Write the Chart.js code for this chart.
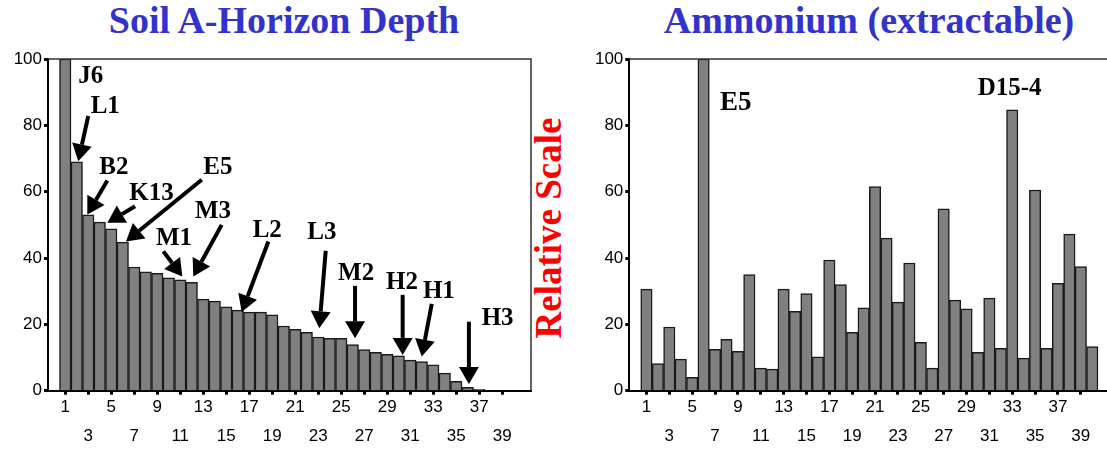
<!DOCTYPE html>
<html>
<head>
<meta charset="utf-8">
<script src="https://cdn.jsdelivr.net/npm/chart.js@4.4.0/dist/chart.umd.min.js"></script>
<style>
  html, body { margin: 0; padding: 0; background: #fff; width: 1107px; height: 449px; overflow: hidden; position: relative; }
  canvas { position: absolute; top: 0; }
  #graficoSolo { left: 0; }
  #graficoAmonio { left: 580px; }
  .titulo { position: absolute; top: 0; font: bold 38px "Liberation Serif", "Times New Roman", serif; color: #3333cc; white-space: nowrap; line-height: 40px; transform: translateX(-50%); }
  #escala { position: absolute; left: 547.5px; top: 227.5px; transform: translate(-50%, -50%) rotate(-90deg); font: bold 37px "Liberation Serif", "Times New Roman", serif; color: #ff0000; white-space: nowrap; line-height: 37px; }
</style>
</head>
<body>
<div class="titulo" style="left:284px">Soil A-Horizon Depth</div>
<div class="titulo" style="left:869px">Ammonium (extractable)</div>
<div id="escala">Relative Scale</div>
<canvas id="graficoSolo" width="560" height="449"></canvas>
<canvas id="graficoAmonio" width="540" height="449"></canvas>
<script>
// Amostras (eixo x)
const amostras = [1, 2, 3, 4, 5, 6, 7, 8, 9, 10, 11, 12, 13, 14, 15, 16, 17, 18, 19, 20,
  21, 22, 23, 24, 25, 26, 27, 28, 29, 30, 31, 32, 33, 34, 35, 36, 37, 38, 39, 40];

// Profundidade do horizonte A (escala relativa)
const profundidadeSolo = [100, 69, 53, 50.8, 48.8, 44.8, 37.3, 35.8, 35.4, 34, 33.4, 32.7, 27.6, 27, 25.3, 24.3,
  23.7, 23.7, 22.9, 19.5, 18.5, 17.6, 16.2, 15.8, 15.8, 13.9, 12.4, 11.6, 11, 10.5, 9.2, 8.8, 7.8, 5.3, 2.8, 1.0,
  0.4, 0, 0, 0];

// Amônio extraível (escala relativa)
const amonioExtraivel = [30.6, 8.2, 19.2, 9.5, 4.0, 100, 12.5, 15.5, 11.9, 35.0, 6.8, 6.5, 30.6, 23.9, 29.3, 10.2,
  39.4, 32.0, 17.6, 25.0, 61.5, 46.0, 26.7, 38.5, 14.6, 6.8, 54.8, 27.3, 24.7, 11.6, 27.9, 12.8, 84.7, 9.8, 60.5,
  12.8, 32.4, 47.2, 37.4, 13.3];

// Marcas do eixo y
const yTicks = [0, 20, 40, 60, 80, 100];

// Rótulos das amostras (posição em índice de categoria / valor)
const rotulosSolo = [
  { texto: 'J6', x: 2.13, y: 94.8 },
  { texto: 'L1', x: 3.21, y: 85.8, de: [3.0, 82.8], para: [2.13, 69.2] },
  { texto: 'B2', x: 3.96, y: 67.4, de: [4.66, 63.4], para: [2.92, 53.1] },
  { texto: 'K13', x: 6.57, y: 59.4, de: [7.07, 55.6], para: [4.66, 50.6] },
  { texto: 'E5', x: 13.0, y: 67.2, de: [12.87, 63.6], para: [6.28, 45.0] },
  { texto: 'M3', x: 12.28, y: 54.1, de: [14.6, 50.0], para: [12.13, 34.4] },
  { texto: 'M1', x: 8.89, y: 46.0, de: [9.53, 42.0], para: [11.18, 34.4] },
  { texto: 'L2', x: 17.3, y: 48.4, de: [18.66, 45.0], para: [16.34, 23.7] },
  { texto: 'L3', x: 22.05, y: 47.7, de: [23.65, 42.2], para: [23.09, 18.8] },
  { texto: 'M2', x: 24.72, y: 35.4, de: [26.2, 31.6], para: [26.2, 15.8] },
  { texto: 'H2', x: 28.89, y: 32.5, de: [30.34, 28.9], para: [30.34, 10.8] },
  { texto: 'H1', x: 32.1, y: 30.0, de: [32.87, 26.2], para: [32.0, 10.3] },
  { texto: 'H3', x: 37.21, y: 21.9, de: [36.1, 20.8], para: [36.1, 2.0] }
];
const rotulosAmonio = [
  { texto: 'E5', x: 7.44, y: 86.6, tamanho: 27 },
  { texto: 'D15-4', x: 29.98, y: 91.1 }
];

// Desenhar seta preta
function desenharSeta(ctx, x1, y1, x2, y2) {
  const ang = Math.atan2(y2 - y1, x2 - x1);
  const comp = 17, larg = 10;
  const bx = x2 - comp * Math.cos(ang), by = y2 - comp * Math.sin(ang);
  ctx.strokeStyle = '#000';
  ctx.fillStyle = '#000';
  ctx.lineWidth = 4;
  ctx.beginPath();
  ctx.moveTo(x1, y1);
  ctx.lineTo(bx, by);
  ctx.stroke();
  ctx.beginPath();
  ctx.moveTo(x2, y2);
  ctx.lineTo(bx + larg * Math.sin(ang), by - larg * Math.cos(ang));
  ctx.lineTo(bx - larg * Math.sin(ang), by + larg * Math.cos(ang));
  ctx.closePath();
  ctx.fill();
}

// Plugin: moldura e anotações
const pluginAnotacoes = {
  id: 'anotacoes',
  afterDatasetsDraw(chart, args, opts) {
    const ctx = chart.ctx;
    const xs = chart.scales.x, ys = chart.scales.y;
    const a = chart.chartArea;
    ctx.save();
    ctx.strokeStyle = '#333';
    ctx.lineWidth = 1.5;
    ctx.beginPath();
    ctx.moveTo(a.left, a.top);
    ctx.lineTo(a.right, a.top);
    ctx.lineTo(a.right, a.bottom);
    ctx.stroke();
    (opts.itens || []).forEach(item => {
      if (item.de) {
        desenharSeta(ctx,
          xs.getPixelForValue(item.de[0]), ys.getPixelForValue(item.de[1]),
          xs.getPixelForValue(item.para[0]), ys.getPixelForValue(item.para[1]));
      }
      ctx.font = 'bold ' + (item.tamanho || 25) + 'px "Liberation Serif", "Times New Roman", serif';
      ctx.fillStyle = '#000';
      ctx.textAlign = 'left';
      ctx.textBaseline = 'middle';
      ctx.fillText(item.texto, xs.getPixelForValue(item.x), ys.getPixelForValue(item.y));
    });
    ctx.restore();
  }
};

// Rótulo do eixo x: ímpares alternando em duas linhas
function rotuloX(i) {
  if (i < 1 || i > 39 || i % 2 === 0) return '';
  return i % 4 === 1 ? String(i) : ['', String(i)];
}

// Criar gráfico de barras
function criarGrafico(id, valores, cfg) {
  return new Chart(document.getElementById(id), {
    type: 'bar',
    data: {
      labels: ['', ...amostras.map(String), ''],
      datasets: [{
        data: [null, ...valores, null],
        backgroundColor: '#808080',
        borderColor: '#1a1a1a',
        borderWidth: 1.5,
        categoryPercentage: 1,
        barPercentage: 1
      }]
    },
    options: {
      responsive: false,
      animation: false,
      devicePixelRatio: 1,
      layout: { padding: { top: 59, right: cfg.direita, left: 0, bottom: 0 } },
      plugins: {
        legend: { display: false },
        tooltip: { enabled: false },
        anotacoes: { itens: cfg.rotulos }
      },
      scales: {
        x: {
          offset: true,
          grid: {
            display: true,
            drawOnChartArea: false,
            offset: false,
            tickLength: 4,
            tickWidth: 3,
            tickColor: c => (c.index % 2 === 1 && c.index <= 39) ? '#000' : 'rgba(0,0,0,0)'
          },
          border: { color: '#000', width: 2 },
          ticks: {
            autoSkip: false,
            maxRotation: 0,
            padding: -2,
            color: '#000',
            font: { family: '"Liberation Sans", Arial, sans-serif', size: 17, lineHeight: 1.7 },
            callback: (v, i) => rotuloX(i)
          },
          afterFit: s => { s.height = 58.3; }
        },
        y: {
          min: 0,
          max: 100,
          afterBuildTicks: s => { s.ticks = yTicks.map(v => ({ value: v })); },
          grid: { drawOnChartArea: false, tickLength: 4, tickWidth: 3, tickColor: '#000' },
          border: { color: '#000', width: 2 },
          ticks: {
            padding: 2,
            color: '#000',
            font: { family: '"Liberation Sans", Arial, sans-serif', size: 17 }
          },
          afterFit: s => { s.width = cfg.eixoY; }
        }
      }
    },
    plugins: [pluginAnotacoes]
  });
}

criarGrafico('graficoSolo', profundidadeSolo, { eixoY: 48, direita: 29, rotulos: rotulosSolo });
criarGrafico('graficoAmonio', amonioExtraivel, { eixoY: 49.3, direita: 10.6, rotulos: rotulosAmonio });
</script>
</body>
</html>
